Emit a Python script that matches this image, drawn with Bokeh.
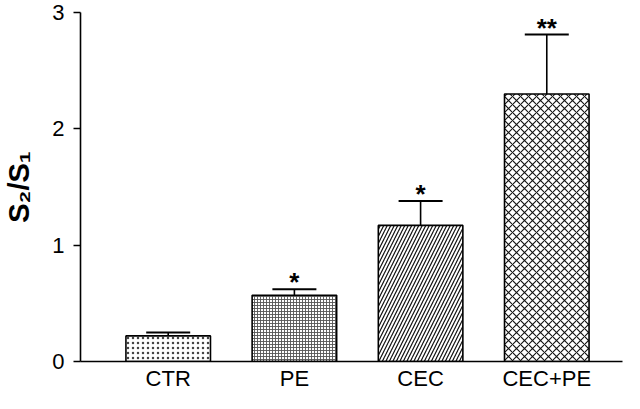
from bokeh.plotting import figure
from bokeh.embed import file_html
from bokeh.resources import INLINE
from bokeh.models import ColumnDataSource, Range1d, FixedTicker, Whisker, TeeHead
from bokeh.core.properties import value

# ---- data ----
categories = ["CTR", "PE", "CEC", "CEC+PE"]
positions = [1, 2, 3, 4]
means = [0.22, 0.57, 1.17, 2.30]
upper = [0.25, 0.62, 1.38, 2.81]
stars = ["", "*", "*", "**"]
hatches = ["dot", "cross", "right_diagonal_line", "diagonal_cross"]
hatch_scales = [5, 3, 7, 8]
hatch_weights = [1.3, 0.9, 1.2, 1.1]
hatch_colors = ["#444444", "#555555", "#111111", "#111111"]

p = figure(width=624, height=393, output_backend="svg", toolbar_location=None,
           x_range=Range1d(0.305, 4.60), y_range=Range1d(0, 3),
           min_border_left=72, min_border_top=12, min_border_right=2, min_border_bottom=0)
p.outline_line_color = None
p.xgrid.visible = False
p.ygrid.visible = False
p.background_fill_color = "white"
p.border_fill_color = "white"

font = "Liberation Sans"

for i in range(4):
    src = ColumnDataSource(dict(x=[positions[i]], top=[means[i]]))
    p.vbar(x="x", top="top", bottom=0, width=0.67, source=src,
           fill_color="white", line_color="black", line_width=1.6,
           hatch_pattern=hatches[i], hatch_scale=hatch_scales[i],
           hatch_weight=hatch_weights[i], hatch_color=hatch_colors[i])

esrc = ColumnDataSource(dict(x=positions, lower=means, upper=upper, star=stars))
w = Whisker(source=esrc, base="x", lower="lower", upper="upper",
            line_color="black", line_width=1.6,
            upper_head=TeeHead(size=44, line_color="black", line_width=2.0),
            lower_head=None)
p.add_layout(w)

p.text(x="x", y="upper", text="star", source=esrc, text_align="center",
       text_baseline="middle", y_offset=-7, text_font=value(font),
       text_font_size="26px", text_font_style="bold", text_color="black")

# axes
p.xaxis.ticker = FixedTicker(ticks=positions)
p.xaxis.major_label_overrides = {pos: c for pos, c in zip(positions, categories)}
p.xaxis.major_tick_line_color = None
p.xaxis.minor_tick_line_color = None
p.xaxis.major_tick_out = 0
p.xaxis.major_tick_in = 0
p.xaxis.major_label_standoff = 4
p.xaxis.major_label_text_font = font
p.xaxis.major_label_text_font_size = "22px"
p.xaxis.major_label_text_color = "black"
p.xaxis.axis_line_width = 1.6
p.xaxis.axis_line_color = "black"

p.yaxis.ticker = FixedTicker(ticks=[0, 1, 2, 3])
p.yaxis.minor_tick_line_color = None
p.yaxis.major_tick_out = 7
p.yaxis.major_tick_in = 0
p.yaxis.major_tick_line_width = 1.4
p.yaxis.major_label_standoff = 9
p.yaxis.major_label_text_font = font
p.yaxis.major_label_text_font_size = "22px"
p.yaxis.major_label_text_color = "black"
p.yaxis.axis_line_width = 1.6
p.yaxis.axis_line_color = "black"
p.yaxis.axis_label = "S₂/S₁"
p.yaxis.axis_label_text_font = font
p.yaxis.axis_label_text_font_style = "bold"
p.yaxis.axis_label_text_font_size = "29px"
p.yaxis.axis_label_standoff = 14
p.yaxis.axis_label_text_color = "black"

open("out.html", "w").write(file_html(p, INLINE))
